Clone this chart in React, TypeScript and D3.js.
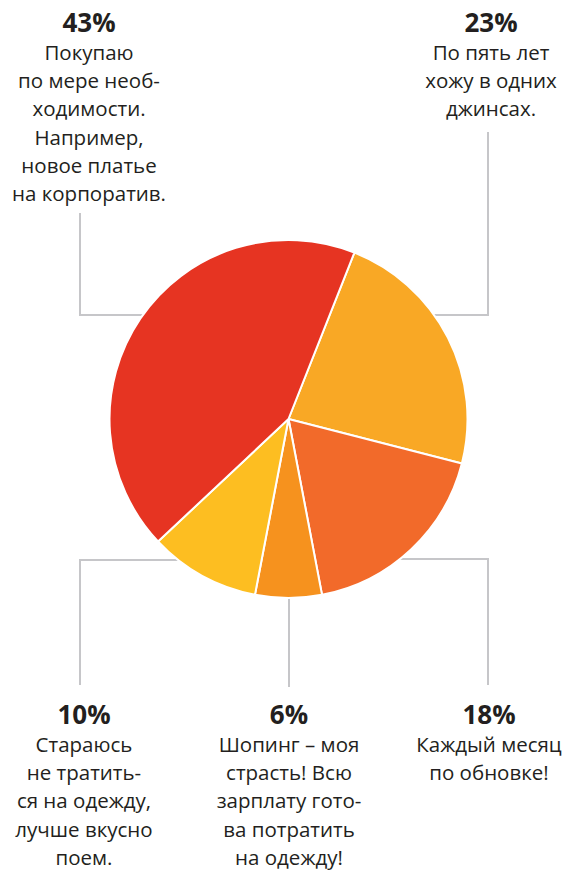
import React from "react";
import * as d3 from "d3";

const percents = ["23%", "18%", "6%", "10%", "43%"];
const values = [23, 18, 6, 10, 43];
const colors = ["#F9A825", "#F26A2A", "#F6921E", "#FDBE21", "#E63422"];
const texts: string[][] = [
  ["По пять лет", "хожу в одних", "джинсах."],
  ["Каждый месяц", "по обновке!"],
  ["Шопинг – моя", "страсть! Всю", "зарплату гото-", "ва потратить", "на одежду!"],
  ["Стараюсь", "не тратить-", "ся на одежду,", "лучше вкусно", "поем."],
  ["Покупаю", "по мере необ-", "ходимости.", "Например,", "новое платье", "на корпоратив."],
];

// layout: label anchor (x, baseline of percent) and leader polyline
const layout = [
  { x: 491, y: 32, line: [[488, 132], [488, 315], [430, 315]] },
  { x: 489, y: 724, line: [[488, 685], [488, 559], [395, 559]] },
  { x: 289, y: 724, line: [[289, 687], [289, 595]] },
  { x: 84, y: 724, line: [[80, 685], [80, 560], [180, 560]] },
  { x: 89, y: 32, line: [[80, 213], [80, 315], [150, 315]] },
];

const W = 571, H = 871;
const cx = 288.5, cy = 419, R = 179;
const font = "'Open Sans', 'Noto Sans', sans-serif";

export default function App() {
  const pie = d3
    .pie<number>()
    .sort(null)
    .value((d) => d)
    .startAngle(Math.PI * 2 * 0.06)
    .endAngle(Math.PI * 2 * 1.06);
  const arcs = pie(values);
  const arc = d3.arc<d3.PieArcDatum<number>>().innerRadius(0).outerRadius(R);
  const lineGen = d3.line();
  return (
    <svg width={W} height={H} style={{ position: "absolute", left: 0, top: 0, background: "#fff" }}>
      {layout.map((l, i) => (
        <path key={"l" + i} d={lineGen(l.line as [number, number][]) || ""} fill="none" stroke="#C6C6C9" strokeWidth={2} />
      ))}
      <g transform={`translate(${cx},${cy})`}>
        {arcs.map((a, i) => (
          <path key={i} d={arc(a) || ""} fill={colors[i]} stroke="#fff" strokeWidth={2} strokeLinejoin="round" />
        ))}
      </g>
      {layout.map((l, i) => (
        <g key={"t" + i} fontFamily={font} fill="#231F20" textAnchor="middle">
          <text x={l.x} y={l.y} fontSize={26} fontWeight={700}>{percents[i]}</text>
          {texts[i].map((t, j) => (
            <text key={j} x={l.x} y={l.y + 28 + j * 28.2} fontSize={20.5}>{t}</text>
          ))}
        </g>
      ))}
    </svg>
  );
}
